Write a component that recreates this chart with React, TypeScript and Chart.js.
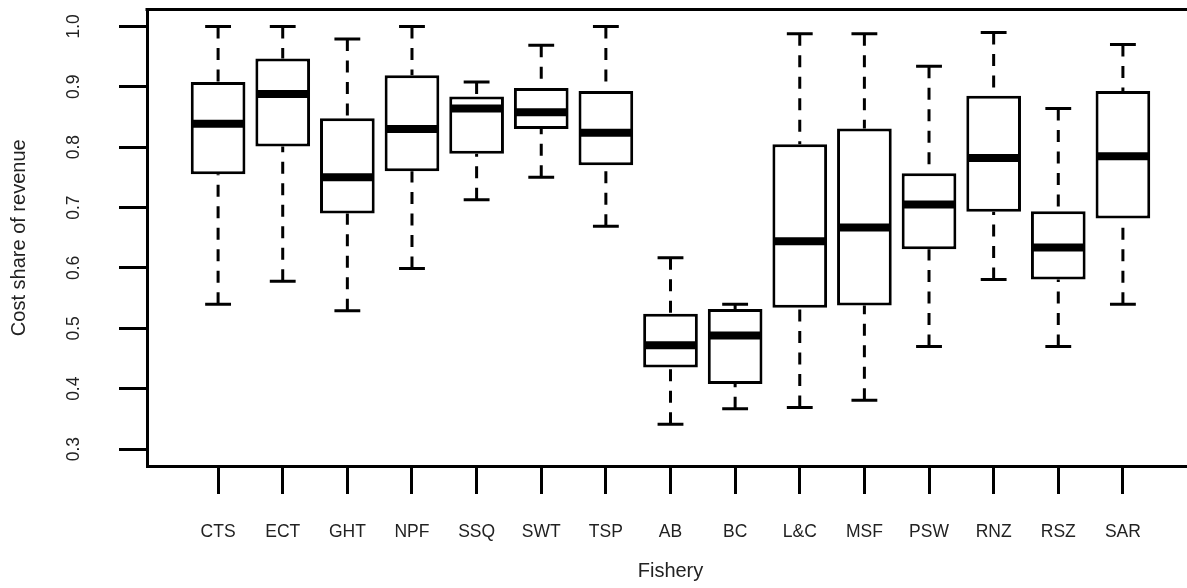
import React, { useEffect, useRef } from 'react';
import { Chart, registerables } from 'chart.js';

Chart.register(...registerables);

// ---- Data ----
const categories = ['CTS', 'ECT', 'GHT', 'NPF', 'SSQ', 'SWT', 'TSP', 'AB', 'BC', 'L&C', 'MSF', 'PSW', 'RNZ', 'RSZ', 'SAR'];
const whiskerLow = [0.540, 0.578, 0.529, 0.599, 0.713, 0.750, 0.669, 0.341, 0.367, 0.369, 0.381, 0.470, 0.581, 0.470, 0.540];
const q1 = [0.755, 0.801, 0.690, 0.760, 0.789, 0.830, 0.770, 0.435, 0.408, 0.534, 0.538, 0.631, 0.693, 0.581, 0.682];
const medians = [0.839, 0.888, 0.750, 0.830, 0.864, 0.858, 0.824, 0.472, 0.488, 0.644, 0.667, 0.705, 0.782, 0.634, 0.785];
const q3 = [0.908, 0.947, 0.848, 0.919, 0.884, 0.898, 0.893, 0.524, 0.532, 0.805, 0.831, 0.757, 0.885, 0.694, 0.893];
const whiskerHigh = [1.0, 1.0, 0.979, 1.0, 0.908, 0.969, 1.0, 0.617, 0.540, 0.988, 0.988, 0.934, 0.990, 0.864, 0.970];
const yTicks = [0.3, 0.4, 0.5, 0.6, 0.7, 0.8, 0.9, 1.0];
const yTickLabels = ['0.3', '0.4', '0.5', '0.6', '0.7', '0.8', '0.9', '1.0'];

const FONT = "'Liberation Sans', Arial, Helvetica, sans-serif";
const TEXT = '#222';

export default function App() {
  const ref = useRef<HTMLCanvasElement>(null);

  useEffect(() => {
    const canvas = ref.current;
    if (!canvas) return;

    const boxExtras = {
      id: 'boxExtras',
      afterDatasetsDraw(chart: any) {
        const { ctx, scales } = chart;
        const x = scales.x;
        const y = scales.y;
        const unit = x.getPixelForValue(1) - x.getPixelForValue(0);
        const half = unit * 0.4;
        const capHalf = unit * 0.2;
        ctx.save();
        ctx.strokeStyle = '#000';
        ctx.lineCap = 'butt';
        categories.forEach((_, i) => {
          const px = x.getPixelForValue(i);
          // whiskers (dashed, from whisker end toward the box)
          ctx.lineWidth = 3;
          ctx.setLineDash([12, 9.5]);
          ctx.beginPath();
          ctx.moveTo(px, y.getPixelForValue(whiskerHigh[i]));
          ctx.lineTo(px, y.getPixelForValue(q3[i]));
          ctx.moveTo(px, y.getPixelForValue(whiskerLow[i]));
          ctx.lineTo(px, y.getPixelForValue(q1[i]));
          ctx.stroke();
          // caps
          ctx.setLineDash([]);
          ctx.beginPath();
          ctx.moveTo(px - capHalf, y.getPixelForValue(whiskerHigh[i]));
          ctx.lineTo(px + capHalf, y.getPixelForValue(whiskerHigh[i]));
          ctx.moveTo(px - capHalf, y.getPixelForValue(whiskerLow[i]));
          ctx.lineTo(px + capHalf, y.getPixelForValue(whiskerLow[i]));
          ctx.stroke();
          // median
          ctx.lineWidth = 8;
          ctx.beginPath();
          ctx.moveTo(px - half, y.getPixelForValue(medians[i]));
          ctx.lineTo(px + half, y.getPixelForValue(medians[i]));
          ctx.stroke();
        });
        ctx.restore();
      },
      afterDraw(chart: any) {
        const { ctx, chartArea, scales } = chart;
        const y = scales.y;
        ctx.save();
        // top and right frame lines
        ctx.strokeStyle = '#000';
        ctx.lineWidth = 3;
        ctx.beginPath();
        ctx.moveTo(chartArea.left - 1.5, chartArea.top);
        ctx.lineTo(chartArea.right, chartArea.top);
        ctx.lineTo(chartArea.right, chartArea.bottom);
        ctx.stroke();
        // rotated y tick labels
        ctx.fillStyle = TEXT;
        ctx.font = `17.5px ${FONT}`;
        ctx.textAlign = 'center';
        ctx.textBaseline = 'middle';
        yTicks.forEach((v, i) => {
          ctx.save();
          ctx.translate(74, y.getPixelForValue(v));
          ctx.rotate(-Math.PI / 2);
          ctx.fillText(yTickLabels[i], 0, 0);
          ctx.restore();
        });
        ctx.restore();
      },
    };

    const chart = new Chart(canvas, {
      type: 'bar',
      data: {
        datasets: [
          {
            label: 'IQR',
            data: categories.map((_, i) => ({ x: i, y: [q1[i], q3[i]] })) as any,
            backgroundColor: '#fff',
            borderColor: '#000',
            borderWidth: 3,
            borderSkipped: false,
            inflateAmount: 0,
            categoryPercentage: 0.846,
            barPercentage: 1,
          } as any,
        ],
      },
      options: {
        responsive: false,
        animation: false,
        devicePixelRatio: 1,
        layout: { padding: { top: 9.5, right: 6, left: 0, bottom: 0 } },
        plugins: {
          legend: { display: false },
          tooltip: { enabled: false },
        },
        scales: {
          x: {
            type: 'linear',
            min: -1.1,
            max: 15.1,
            offset: false,
            afterBuildTicks: (s: any) => {
              s.ticks = categories.map((_, i) => ({ value: i }));
            },
            afterFit: (s: any) => {
              s.height = 122;
            },
            ticks: {
              autoSkip: false,
              maxRotation: 0,
              minRotation: 0,
              padding: 27.5,
              color: TEXT,
              font: { family: FONT, size: 17.5 },
              callback: (v: any) => categories[v as number],
            },
            grid: {
              offset: false,
              drawOnChartArea: false,
              drawTicks: true,
              tickLength: 28,
              lineWidth: 3,
              color: '#000',
            },
            border: { display: true, width: 3, color: '#000' },
            title: {
              display: true,
              text: 'Fishery',
              color: TEXT,
              font: { family: FONT, size: 20 },
              padding: { top: 0, bottom: 4.5 },
            },
          } as any,
          y: {
            type: 'linear',
            min: 0.272,
            max: 1.028,
            beginAtZero: false,
            afterBuildTicks: (s: any) => {
              s.ticks = yTicks.map((v) => ({ value: v }));
            },
            afterFit: (s: any) => {
              s.width = 147;
            },
            ticks: { display: false },
            grid: {
              drawOnChartArea: false,
              drawTicks: true,
              tickLength: 28,
              lineWidth: 3,
              color: '#000',
            },
            border: { display: true, width: 3, color: '#000' },
            title: {
              display: true,
              text: 'Cost share of revenue',
              color: TEXT,
              font: { family: FONT, size: 20 },
              padding: { top: 7.5, bottom: 0 },
            },
          } as any,
        },
      },
      plugins: [boxExtras],
    });

    return () => chart.destroy();
  }, []);

  return (
    <div
      style={{
        position: 'absolute',
        left: 0,
        top: 0,
        width: 1187,
        height: 588,
        overflow: 'hidden',
        background: '#fff',
      }}
    >
      <canvas ref={ref} width={1200} height={588} style={{ display: 'block', width: 1200, height: 588 }} />
    </div>
  );
}
